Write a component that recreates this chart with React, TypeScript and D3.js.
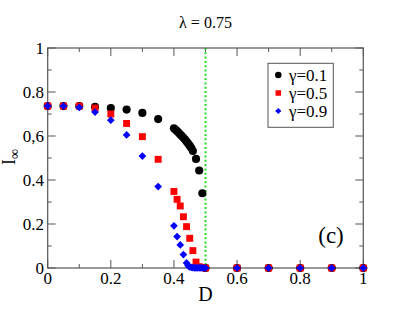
import React from "react";
import * as d3 from "d3";

const dG1 = [0, 0.05, 0.1, 0.15, 0.2, 0.25, 0.3, 0.35, 0.4, 0.405, 0.41, 0.415, 0.42, 0.425, 0.43, 0.435, 0.44, 0.445, 0.45, 0.455, 0.46, 0.47, 0.48, 0.49, 0.5, 0.6, 0.7, 0.8, 0.9, 1.0];
const iG1 = [0.736, 0.736, 0.736, 0.733, 0.727, 0.72, 0.705, 0.677, 0.635, 0.628, 0.622, 0.615, 0.607, 0.6, 0.592, 0.584, 0.575, 0.566, 0.556, 0.545, 0.532, 0.496, 0.443, 0.34, 0, 0, 0, 0, 0, 0];

const dG5 = [0, 0.05, 0.1, 0.15, 0.2, 0.25, 0.3, 0.35, 0.4, 0.41, 0.42, 0.43, 0.44, 0.45, 0.46, 0.47, 0.48, 0.49, 0.5, 0.6, 0.7, 0.8, 0.9, 1.0];
const iG5 = [0.736, 0.736, 0.736, 0.727, 0.7, 0.657, 0.597, 0.494, 0.348, 0.312, 0.282, 0.233, 0.188, 0.135, 0.079, 0.027, 0.006, 0.002, 0, 0, 0, 0, 0, 0];

const dG9 = [0, 0.05, 0.1, 0.15, 0.2, 0.25, 0.3, 0.35, 0.4, 0.41, 0.42, 0.43, 0.44, 0.445, 0.45, 0.455, 0.46, 0.465, 0.47, 0.475, 0.48, 0.485, 0.49, 0.495, 0.5, 0.6, 0.7, 0.8, 0.9, 1.0];
const iG9 = [0.736, 0.736, 0.73, 0.709, 0.672, 0.605, 0.509, 0.37, 0.192, 0.143, 0.105, 0.061, 0.023, 0.01, 0.005, 0.003, 0.002, 0.001, 0.001, 0.001, 0.001, 0.001, 0, 0, 0, 0, 0, 0, 0, 0];

const xTicks = [0, 0.2, 0.4, 0.6, 0.8, 1];
const xTickLabels = ["0", "0.2", "0.4", "0.6", "0.8", "1"];
const yTicks = [0, 0.2, 0.4, 0.6, 0.8, 1];
const yTickLabels = ["0", "0.2", "0.4", "0,6", "0.8", "1"];
const minorTicks = [0.1, 0.3, 0.5, 0.7, 0.9];
const legendLabels = ["γ=0.1", "γ=0.5", "γ=0.9"];
const criticalD = 0.5;

const W = 409, H = 316;
const L = 47.7, R = 363.3, T = 48, B = 268;
const FONT = "Liberation Serif";
const AX = "#555";

export default function App() {
  const x = d3.scaleLinear().domain([0, 1]).range([L, R]);
  const y = d3.scaleLinear().domain([0, 1]).range([B, T]);
  const sym = (type: any, size: number) => d3.symbol().type(type).size(size)() as string;
  const circle = sym(d3.symbolCircle, 52);
  const square = sym(d3.symbolSquare, 48);
  const diamond = sym(d3.symbolSquare, 30);

  const majorLen = 8, minorLen = 4;
  const ticks: any[] = [];
  xTicks.forEach((t, i) => {
    ticks.push(<line key={"xb" + i} x1={x(t)} x2={x(t)} y1={B} y2={B - majorLen} stroke={AX} />);
    ticks.push(<line key={"xt" + i} x1={x(t)} x2={x(t)} y1={T} y2={T + majorLen} stroke={AX} />);
  });
  minorTicks.forEach((t, i) => {
    ticks.push(<line key={"xbm" + i} x1={x(t)} x2={x(t)} y1={B} y2={B - minorLen} stroke={AX} />);
    ticks.push(<line key={"xtm" + i} x1={x(t)} x2={x(t)} y1={T} y2={T + minorLen} stroke={AX} />);
    ticks.push(<line key={"ylm" + i} x1={L} x2={L + minorLen} y1={y(t)} y2={y(t)} stroke={AX} />);
    ticks.push(<line key={"yrm" + i} x1={R} x2={R - minorLen} y1={y(t)} y2={y(t)} stroke={AX} />);
  });
  yTicks.forEach((t, i) => {
    ticks.push(<line key={"yl" + i} x1={L} x2={L + majorLen} y1={y(t)} y2={y(t)} stroke={AX} />);
    ticks.push(<line key={"yr" + i} x1={R} x2={R - majorLen} y1={y(t)} y2={y(t)} stroke={AX} />);
  });

  return (
    <svg width={W} height={H} style={{ position: "absolute", left: 0, top: 0, background: "#fff" }} fontFamily={FONT}>
      <rect width={W} height={H} fill="#fff" />
      <text x={205.5} y={28} textAnchor="middle" fontSize={16} fontFamily={FONT}>λ = 0.75</text>
      {ticks}
      <line x1={x(criticalD)} x2={x(criticalD)} y1={T} y2={B} stroke="#22dd22" strokeWidth={2} strokeDasharray="2,2.3" />
      <rect x={L} y={T} width={R - L} height={B - T} fill="none" stroke={AX} strokeWidth={1.2} />
      {xTicks.map((t, i) => (
        <text key={"xl" + i} x={x(t)} y={284} textAnchor="middle" fontSize={17} fontFamily={FONT}>{xTickLabels[i]}</text>
      ))}
      {yTicks.map((t, i) => (
        <text key={"yl" + i} x={44} y={y(t)} dy="0.34em" textAnchor="end" fontSize={17} fontFamily={FONT}>{yTickLabels[i]}</text>
      ))}
      <text x={205.5} y={301} textAnchor="middle" fontSize={20} fontFamily={FONT}>D</text>
      <text transform="translate(14.5,157) rotate(-90)" textAnchor="middle" fontSize={18} fontFamily={FONT}>
        I<tspan fontSize={14} dy={4}>∞</tspan>
      </text>
      <text x={331} y={243} textAnchor="middle" fontSize={23} fontFamily={FONT}>(c)</text>
      {dG1.map((d, i) => (
        <path key={"g1" + i} d={circle} transform={`translate(${x(d)},${y(iG1[i])})`} fill="#000" />
      ))}
      {dG5.map((d, i) => (
        <path key={"g5" + i} d={square} transform={`translate(${x(d)},${y(iG5[i])})`} fill="#f00" />
      ))}
      {dG9.map((d, i) => (
        <path key={"g9" + i} d={diamond} transform={`translate(${x(d)},${y(iG9[i])}) rotate(45)`} fill="#00f" />
      ))}
      <rect x={268} y={63.3} width={65.3} height={64} fill="#fff" stroke={AX} strokeWidth={1} />
      {legendLabels.map((lab, i) => {
        const ly = 75 + i * 18;
        const p = i === 0 ? circle : i === 1 ? square : diamond;
        const c = i === 0 ? "#000" : i === 1 ? "#f00" : "#00f";
        const rot = i === 2 ? " rotate(45)" : "";
        return (
          <g key={"lg" + i}>
            <path d={p} transform={`translate(278.3,${ly}) scale(0.8)${rot}`} fill={c} />
            <text x={289} y={ly} dy="0.35em" fontSize={17} fontFamily={FONT}>{lab}</text>
          </g>
        );
      })}
    </svg>
  );
}
